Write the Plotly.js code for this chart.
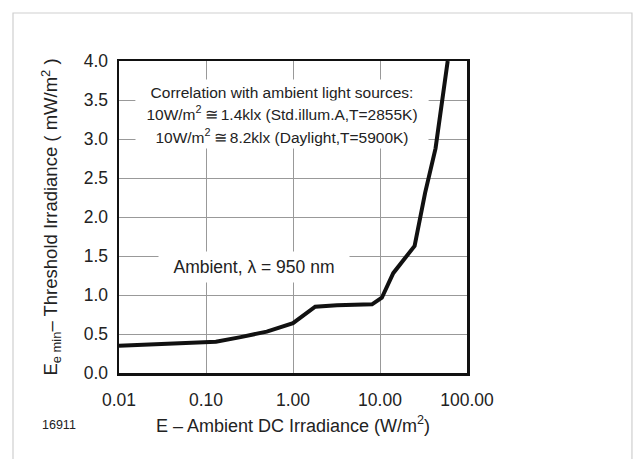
<!DOCTYPE html>
<html>
<head>
<meta charset="utf-8">
<script src="https://cdn.plot.ly/plotly-3.0.1.min.js"></script>
<style>html,body{margin:0;padding:0;background:#fff;}#chart{width:636px;height:459px;}</style>
</head>
<body>
<div id="chart"></div>
<script>
// Data
const irradiance = [0.01, 0.13, 0.25, 0.5, 1.0, 1.8, 3.2, 8.1, 10.5, 14.2, 25, 33, 43.5, 60];
const threshold  = [0.35, 0.40, 0.46, 0.53, 0.64, 0.85, 0.87, 0.88, 0.965, 1.28, 1.63, 2.31, 2.88, 4.0];

const xTickVals = [0.01, 0.1, 1, 10, 100];
const xTickText = ["0.01", "0.10", "1.00", "10.00", "100.00"];
const yTickVals = [0, 0.5, 1, 1.5, 2, 2.5, 3, 3.5, 4];
const yTickText = ["0.0", "0.5", "1.0", "1.5", "2.0", "2.5", "3.0", "3.5", "4.0"];

const correlationLines = [
  "Correlation with ambient light sources:",
  "10W/m<sup>2</sup>\u2009\u2245\u20091.4klx (Std.illum.A,T=2855K)",
  "10W/m<sup>2</sup>\u2009\u2245\u20098.2klx (Daylight,T=5900K)"
];
const curveLabel = "Ambient, \u03bb = 950 nm";
const figureId = "16911";

const FONT = "Liberation Sans, Arial, Helvetica, sans-serif";

const trace = {
  x: irradiance,
  y: threshold,
  type: "scatter",
  mode: "lines",
  line: {color: "#111111", width: 4},
  hoverinfo: "skip",
  showlegend: false
};

const lineY = [0.9006, 0.8333, 0.7596];
const annotations = correlationLines.map((t, i) => ({
  xref: "paper", yref: "paper",
  x: 0.468, y: lineY[i],
  xanchor: "center", yanchor: "middle",
  text: t, showarrow: false,
  width: 292, height: 24, borderpad: 0,
  bgcolor: "#ffffff",
  font: {family: FONT, size: 15.5, color: "#222222"}
}));
annotations.push({
  xref: "paper", yref: "paper",
  x: 0.388, y: 0.3397,
  xanchor: "center", yanchor: "middle",
  text: curveLabel, showarrow: false,
  width: 190, height: 30, borderpad: 0,
  bgcolor: "#ffffff",
  font: {family: FONT, size: 17.5, color: "#222222"}
});
annotations.push({
  xref: "paper", yref: "paper",
  x: -0.172, y: -0.1667,
  xanchor: "center", yanchor: "middle",
  text: figureId, showarrow: false,
  font: {family: FONT, size: 12.5, color: "#222222"}
});

const layout = {
  width: 636, height: 459,
  margin: {l: 119, r: 169, t: 61, b: 86, pad: 0},
  paper_bgcolor: "#ffffff",
  plot_bgcolor: "#ffffff",
  font: {family: FONT, color: "#222222"},
  showlegend: false,
  xaxis: {
    type: "log",
    range: [-2, 2],
    tickvals: xTickVals,
    ticktext: xTickText,
    ticks: "",
    ticklabelstandoff: 9,
    tickfont: {family: FONT, size: 17.5, color: "#222222"},
    showgrid: true, gridcolor: "#999999", gridwidth: 1,
    showline: true, linecolor: "#111111", linewidth: 2.5, mirror: true,
    zeroline: false,
    automargin: false,
    title: {text: "E \u2013 Ambient DC Irradiance (W/m<sup>2</sup>)", font: {family: FONT, size: 18, color: "#222222"}, standoff: 11}
  },
  yaxis: {
    range: [0, 4],
    tickvals: yTickVals,
    ticktext: yTickText,
    ticks: "",
    ticklabelstandoff: 5,
    tickfont: {family: FONT, size: 17.5, color: "#222222"},
    showgrid: true, gridcolor: "#999999", gridwidth: 1,
    showline: true, linecolor: "#111111", linewidth: 2.5, mirror: true,
    zeroline: false,
    automargin: false,
    title: {text: "E<sub>e min</sub>\u2013 Threshold Irradiance ( mW/m<sup>2</sup> )", font: {family: FONT, size: 18.5, color: "#222222"}, standoff: 21}
  },
  annotations: annotations,
  shapes: [{
    type: "rect", xref: "paper", yref: "paper",
    x0: -0.3046, x1: 1.474, y0: -0.33, y1: 1.1538,
    line: {color: "#cfcfcf", width: 1.2},
    fillcolor: "rgba(0,0,0,0)",
    layer: "below"
  }]
};

Plotly.newPlot("chart", [trace], layout, {displayModeBar: false, staticPlot: true});
</script>
</body>
</html>
